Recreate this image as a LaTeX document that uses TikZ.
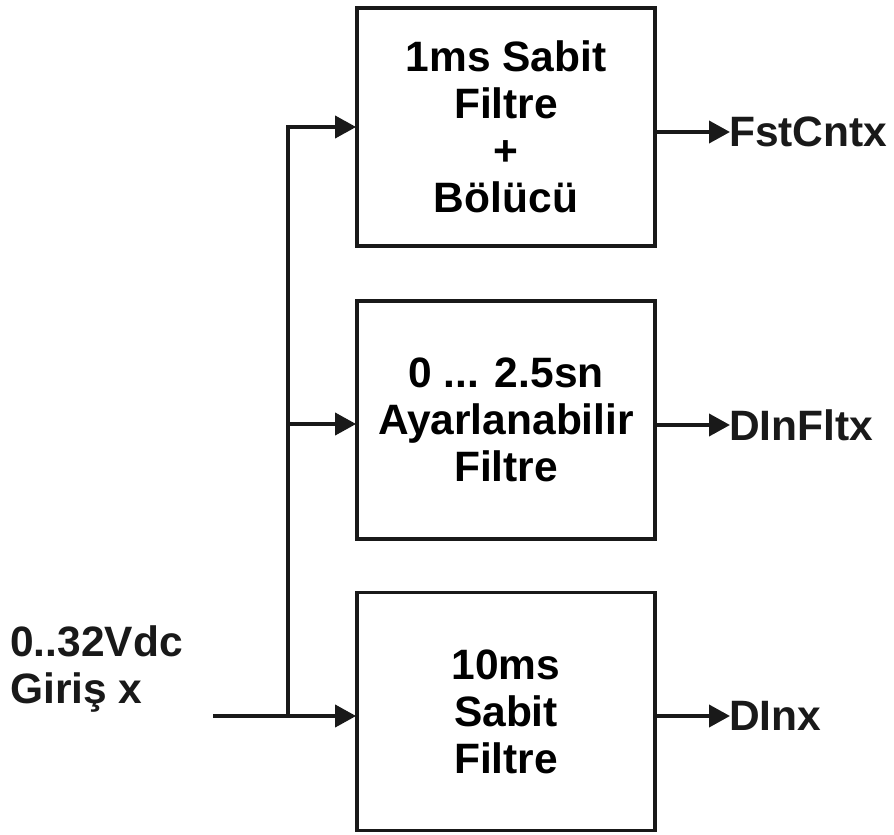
\documentclass[tikz,border=0pt]{standalone}
\usepackage{fontspec}
\setmainfont{Liberation Sans}
\usetikzlibrary{arrows.meta}
\begin{document}
\begin{tikzpicture}[x=1pt,y=-1pt,
  blk/.style={draw=black!90, line width=3.8pt, minimum width=298pt, minimum height=238pt, inner sep=0pt, align=center,
    font=\fontsize{42.5}{47}\selectfont\bfseries},
  lbl/.style={inner sep=0pt, font=\fontsize{42.5}{47}\selectfont\bfseries, text=black!90},
  wire/.style={line width=3.8pt, draw=black!90},
  arr/.style={wire, -{Triangle[length=21pt,width=22pt]}, shorten >=-1pt}]
\useasboundingbox (0,0) rectangle (894,835);
\node[blk] (b1) at (506,127) {1ms Sabit\\Filtre\\+\\Bölücü};
\node[blk] (b2) at (506,420) {0 ... 2.5sn\\Ayarlanabilir\\Filtre};
\node[blk] (b3) at (506,711.5) {10ms\\Sabit\\Filtre};
\coordinate (in) at (213,716);
\coordinate (j3) at (288,716);
\coordinate (j2) at (288,424);
\coordinate (j1) at (288,127);
\node[lbl, anchor=base west, align=left] (inlbl) at (10,703) {0..32Vdc\\Giriş x};
\node[lbl, anchor=west] (o1) at (729,132) {FstCntx};
\node[lbl, anchor=west] (o2) at (729,425) {DInFltx};
\node[lbl, anchor=west] (o3) at (729,716) {DInx};
\draw[wire] (in) -- (j3);
\draw[wire, line cap=rect] (j3) -- (j1);
\draw[arr] (j1) -- (b1.west |- j1);
\draw[arr] (j2) -- (b2.west |- j2);
\draw[arr] (j3) -- (b3.west |- j3);
\draw[arr] (b1.east |- o1) -- (o1.west);
\draw[arr] (b2.east |- o2) -- (o2.west);
\draw[arr] (b3.east |- o3) -- (o3.west);
\end{tikzpicture}
\end{document}
